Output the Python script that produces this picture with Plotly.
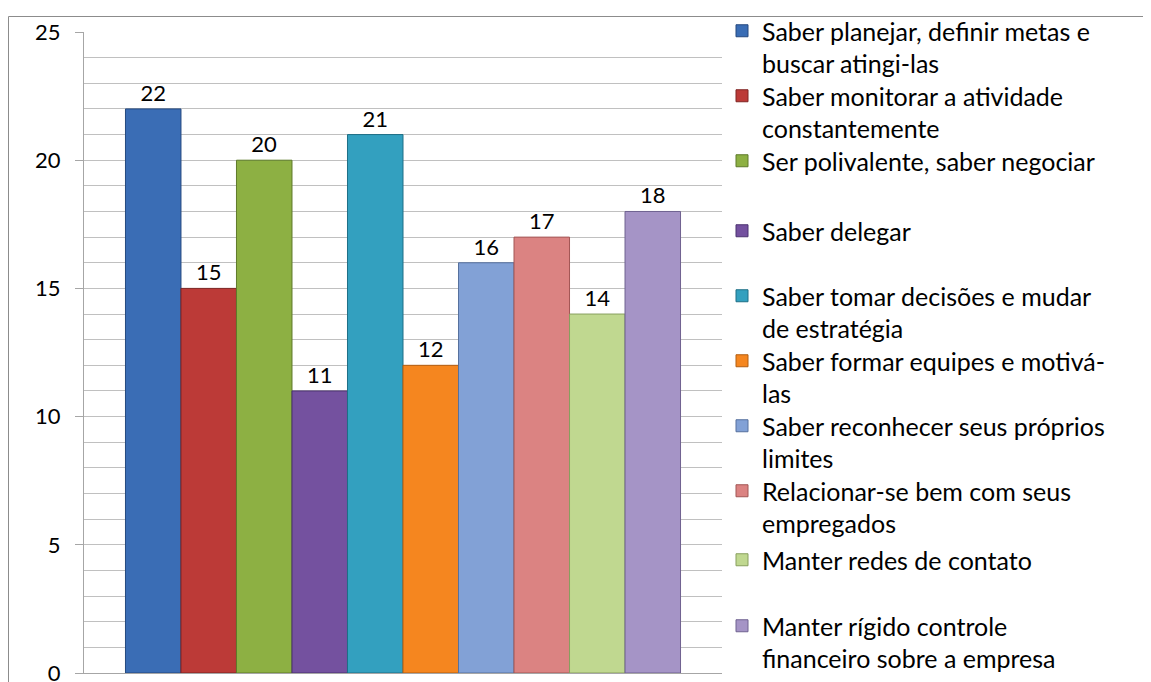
import plotly.graph_objects as go

series_names = [
    "Saber planejar, definir metas e<br>buscar atingi-las",
    "Saber monitorar a atividade<br>constantemente",
    "Ser polivalente, saber negociar<br> ",
    "Saber delegar<br> ",
    "Saber tomar decisões e mudar<br>de estratégia",
    "Saber formar equipes e motivá-<br>las",
    "Saber reconhecer seus próprios<br>limites",
    "Relacionar-se bem com seus<br>empregados",
    "Manter redes de contato<br> ",
    "Manter rígido controle<br>financeiro sobre a empresa",
]
values = [22, 15, 20, 11, 21, 12, 16, 17, 14, 18]
colors = ["#3A6DB5", "#BC3A37", "#8DB043", "#74519F", "#33A0BF",
          "#F5861F", "#82A1D6", "#DB8382", "#C0D890", "#A594C6"]
edge_colors = ["#24497F", "#7F2523", "#5E7A2A", "#4B3370", "#1E6F86",
               "#B25E10", "#56719E", "#A25655", "#889F5E", "#6F6290"]
category = [""]

# layout: vertical centre (in screen px) of each legend entry's first line
legend_line_px = [32, 97, 162, 232, 297, 362, 427, 492, 561, 627]

FONT = "Lato, 'Open Sans', sans-serif"
W, H = 1151, 682
ML, MT = 76, 24          # page is offset 8px by the body margin
PLOT_W, PLOT_H = 638, 641
MR = W - ML - PLOT_W
MB = H - MT - PLOT_H
PAGE_TOP = MT + 8
LEG_TOP_OFFSET = 24

fig = go.Figure()
legend_layouts = {}
for i, (name, v, c, ec, ly) in enumerate(zip(series_names, values, colors, edge_colors, legend_line_px)):
    lid = "legend" if i == 0 else f"legend{i+1}"
    fig.add_trace(go.Bar(
        x=category, y=[v], name=name, legend=lid,
        marker=dict(color=c, line=dict(color=ec, width=1)),
        text=[str(v)], textposition="outside",
        textfont=dict(size=22, color="black", family=FONT),
        cliponaxis=False,
    ))
    top_px = ly - LEG_TOP_OFFSET
    legend_layouts[lid] = dict(
        x=1.0, y=(PAGE_TOP + PLOT_H - top_px) / PLOT_H,
        xanchor="left", yanchor="top", valign="top",
        bgcolor="rgba(0,0,0,0)",
        font=dict(size=25, family=FONT, color="black"),
        itemwidth=30,
    )

fig.update_layout(
    width=W, height=H,
    paper_bgcolor="white", plot_bgcolor="white",
    margin=dict(l=ML, r=MR, t=MT, b=MB, autoexpand=False),
    barmode="group", bargap=0.13, bargroupgap=0,
    font=dict(family=FONT, size=22, color="black"),
    showlegend=True,
    **legend_layouts,
)
fig.update_xaxes(showticklabels=False, showline=True, linecolor="#A6A6A6",
                 linewidth=1, ticks="", showgrid=False, zeroline=False)
fig.update_yaxes(range=[0, 25], tickmode="linear", tick0=0, dtick=5,
                 ticks="outside", ticklen=8, tickcolor="#A6A6A6",
                 showline=True, linecolor="#A6A6A6", linewidth=1,
                 showgrid=True, gridcolor="#C0C0C0", gridwidth=1,
                 minor=dict(dtick=1, showgrid=True, gridcolor="#C0C0C0", gridwidth=1, ticks=""),
                 zeroline=False, tickfont=dict(size=22, family=FONT),
                 ticklabelstandoff=10)

# chart frame (left and top borders)
fx = (0.5 - ML) / PLOT_W
fy = (MT + PLOT_H - 8.5) / PLOT_H
fig.add_shape(type="line", xref="paper", yref="paper",
              x0=fx, x1=fx, y0=-0.05, y1=fy,
              line=dict(color="#8C8C8C", width=1))
fig.add_shape(type="line", xref="paper", yref="paper",
              x0=fx, x1=1.7, y0=fy, y1=fy,
              line=dict(color="#8C8C8C", width=1))

fig.write_html("out.html")
